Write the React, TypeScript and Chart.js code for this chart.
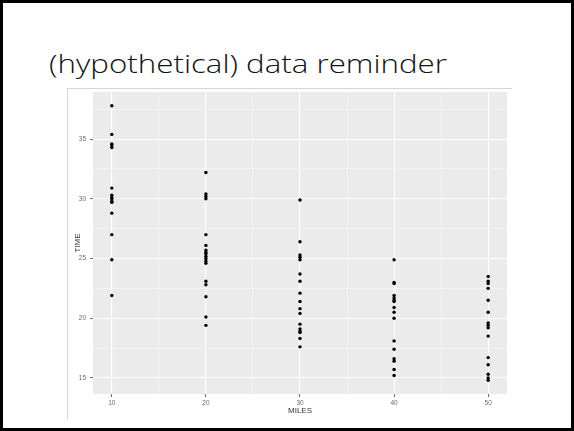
import React, { useEffect, useLayoutEffect, useRef } from "react";
import { Chart, registerables } from "chart.js";

Chart.register(...registerables);

const TITLE = "(hypothetical) data reminder";
const X_LABEL = "MILES";
const Y_LABEL = "TIME";

const milesGroups = [10, 20, 30, 40, 50];
const time10 = [37.8, 35.4, 34.6, 34.5, 34.3, 30.9, 30.3, 30.1, 30.0, 29.8, 29.7, 28.8, 27.0, 24.9, 21.9];
const time20 = [32.2, 30.4, 30.2, 30.0, 27.0, 26.1, 25.7, 25.5, 25.4, 25.2, 25.0, 24.8, 24.6, 23.1, 22.8, 21.8, 20.1, 19.4];
const time30 = [29.9, 26.4, 25.3, 25.1, 24.9, 23.7, 23.1, 22.1, 21.4, 20.8, 20.4, 19.5, 19.1, 18.9, 18.8, 18.3, 17.6];
const time40 = [24.9, 23.0, 22.9, 21.9, 21.7, 21.5, 21.4, 20.9, 20.5, 20.0, 18.1, 17.4, 16.6, 16.4, 15.7, 15.2];
const time50 = [23.5, 23.1, 22.9, 22.5, 21.5, 20.5, 19.6, 19.4, 19.2, 18.5, 16.7, 16.1, 15.3, 15.0, 14.8];
const timeByGroup = [time10, time20, time30, time40, time50];

const xMajorTicks = [10, 20, 30, 40, 50];
const xMinorTicks = [15, 25, 35, 45];
const yMajorTicks = [15, 20, 25, 30, 35];
const yMinorTicks = [17.5, 22.5, 27.5, 32.5, 37.5];

const X_MIN = 8;
const X_MAX = 52;
const Y_MIN = 13.65;
const Y_MAX = 38.95;

const panelBg = {
  id: "panelBg",
  beforeDraw(chart: any) {
    const { ctx, chartArea } = chart;
    if (!chartArea) return;
    ctx.save();
    ctx.fillStyle = "#EBEBEB";
    ctx.fillRect(chartArea.left, chartArea.top, chartArea.right - chartArea.left, chartArea.bottom - chartArea.top);
    ctx.restore();
  },
};

function makeTicks(major: number[], minor: number[]) {
  return [...major, ...minor].sort((a, b) => a - b).map((v) => ({ value: v }));
}

export default function App() {
  const canvasRef = useRef<HTMLCanvasElement | null>(null);
  const titleRef = useRef<HTMLSpanElement | null>(null);

  useLayoutEffect(() => {
    const el = titleRef.current;
    if (!el) return;
    const w = el.getBoundingClientRect().width;
    if (w > 0) el.style.transform = `scaleX(${398 / w})`;
  }, []);

  useEffect(() => {
    if (!canvasRef.current) return;
    const points: { x: number; y: number }[] = [];
    milesGroups.forEach((m, i) => {
      timeByGroup[i].forEach((t) => points.push({ x: m, y: t }));
    });
    const isMajorX = (v: number) => xMajorTicks.includes(v);
    const isMajorY = (v: number) => yMajorTicks.includes(v);
    const chart = new Chart(canvasRef.current, {
      type: "scatter",
      data: {
        datasets: [
          {
            data: points,
            backgroundColor: "#000000",
            borderWidth: 0,
            pointRadius: 1.7,
          },
        ],
      },
      options: {
        animation: false,
        responsive: false,
        layout: { padding: { top: 3, right: 3, left: 0, bottom: 0 } },
        plugins: { legend: { display: false }, tooltip: { enabled: false } },
        scales: {
          x: {
            type: "linear",
            min: X_MIN,
            max: X_MAX,
            afterBuildTicks: (scale: any) => {
              scale.ticks = makeTicks(xMajorTicks, xMinorTicks);
            },
            afterFit: (scale: any) => {
              scale.height = 24;
              scale.paddingLeft = 0;
              scale.paddingRight = 0;
            },
            border: { display: false },
            grid: {
              color: (c: any) => (isMajorX(c.tick?.value) ? "#ffffff" : "#f8f8f8"),
              lineWidth: (c: any) => (isMajorX(c.tick?.value) ? 1.1 : 0.6),
              tickColor: (c: any) => (isMajorX(c.tick?.value) ? "#444444" : "rgba(0,0,0,0)"),
              tickLength: 3,
              tickWidth: 0.8,
            },
            ticks: {
              autoSkip: false,
              maxRotation: 0,
              padding: 2,
              color: "#6a6a6a",
              font: { family: "Liberation Sans", size: 6.5 },
              callback: (v: any) => (xMajorTicks.includes(Number(v)) ? String(v) : ""),
            },
            title: {
              display: true,
              text: X_LABEL,
              color: "#333333",
              font: { family: "Liberation Sans", size: 8 },
              padding: { top: 0, bottom: 2 },
            },
          },
          y: {
            type: "linear",
            min: Y_MIN,
            max: Y_MAX,
            afterBuildTicks: (scale: any) => {
              scale.ticks = makeTicks(yMajorTicks, yMinorTicks);
            },
            afterFit: (scale: any) => {
              scale.width = 26;
              scale.paddingTop = 0;
              scale.paddingBottom = 0;
            },
            border: { display: false },
            grid: {
              color: (c: any) => (isMajorY(c.tick?.value) ? "#ffffff" : "#f8f8f8"),
              lineWidth: (c: any) => (isMajorY(c.tick?.value) ? 1.1 : 0.6),
              tickColor: (c: any) => (isMajorY(c.tick?.value) ? "#444444" : "rgba(0,0,0,0)"),
              tickLength: 3,
              tickWidth: 0.8,
            },
            ticks: {
              autoSkip: false,
              padding: 4,
              color: "#6a6a6a",
              font: { family: "Liberation Sans", size: 6.5 },
              callback: (v: any) => (yMajorTicks.includes(Number(v)) ? String(v) : ""),
            },
            title: {
              display: true,
              text: Y_LABEL,
              color: "#333333",
              font: { family: "Liberation Sans", size: 8 },
              padding: { top: 6, bottom: 0 },
            },
          },
        },
      },
      plugins: [panelBg],
    } as any);
    return () => chart.destroy();
  }, []);

  return (
    <div
      style={{
        position: "fixed",
        left: 0,
        top: 0,
        width: 574,
        height: 431,
        boxSizing: "border-box",
        border: "3px solid #000",
        background: "#fff",
        overflow: "hidden",
      }}
    >
      <div
        style={{
          position: "absolute",
          left: 46,
          top: 40,
          whiteSpace: "nowrap",
          fontFamily: "'Open Sans', 'Noto Sans', sans-serif",
          fontWeight: 300,
          fontSize: 26,
          lineHeight: "40px",
          color: "#111",
        }}
      >
        <span ref={titleRef} style={{ display: "inline-block", transformOrigin: "0 0" }}>
          {TITLE}
        </span>
      </div>
      <div
        style={{
          position: "absolute",
          left: 64,
          top: 85,
          width: 444,
          height: 330,
          borderLeft: "1px solid #d4d4d4",
          borderTop: "1px solid #d4d4d4",
        }}
      />
      <canvas
        ref={canvasRef}
        width={444}
        height={330}
        style={{ position: "absolute", left: 64, top: 85, width: 444, height: 330 }}
      />
    </div>
  );
}
